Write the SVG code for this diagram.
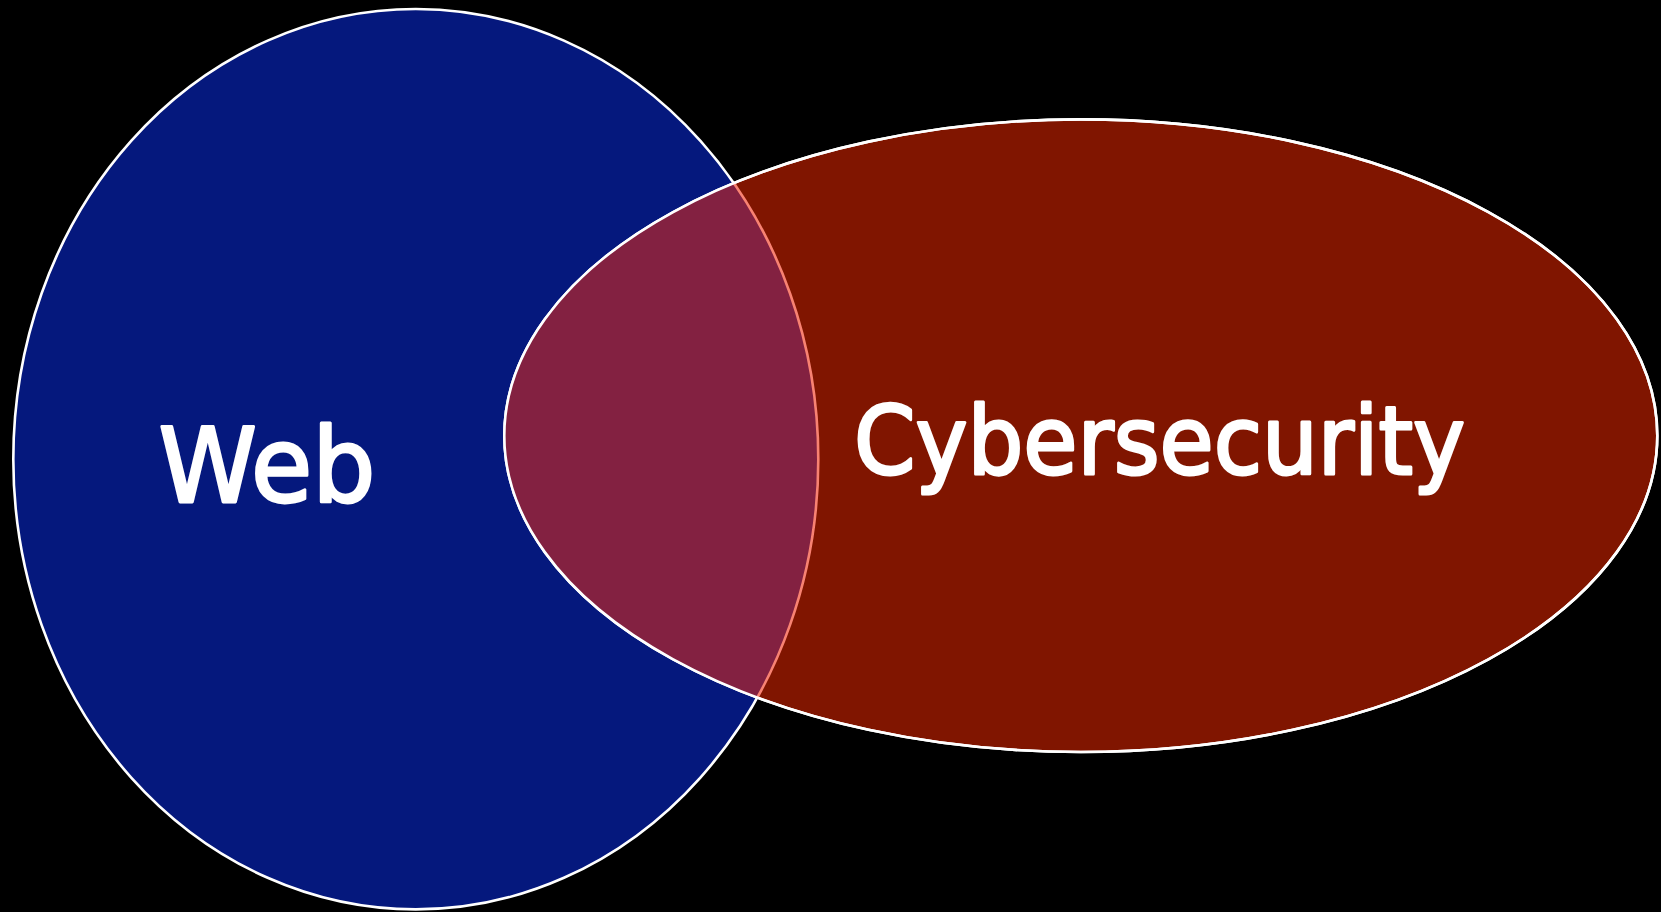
<svg xmlns="http://www.w3.org/2000/svg" width="1661" height="912" viewBox="0 0 1661 912">
<style>
.lbl{font-family:"DejaVu Sans","Liberation Sans",sans-serif;fill:#ffffff;stroke:#ffffff;stroke-width:3;stroke-linejoin:round;}
.edge{stroke:#ffffff;stroke-width:2.6;}
</style>
<defs>
<clipPath id="redClip"><ellipse cx="1080.8" cy="435.7" rx="576.5" ry="316.3"/></clipPath>
</defs>
<rect x="0" y="0" width="1661" height="912" fill="#000000"/>
<g id="web">
<ellipse class="edge" cx="415.8" cy="459.2" rx="402.5" ry="450.2" fill="#05187D"/>
</g>
<g id="cybersecurity">
<ellipse class="edge" cx="1080.8" cy="435.7" rx="576.5" ry="316.3" fill="#801500"/>
</g>
<g id="overlap" clip-path="url(#redClip)">
<ellipse cx="415.8" cy="459.2" rx="402.5" ry="450.2" fill="#832141" stroke="#F88272" stroke-width="2.6"/>
</g>
<g id="outline">
<ellipse class="edge" cx="1080.8" cy="435.7" rx="576.5" ry="316.3" fill="none"/>
</g>
<g id="labels">
<text class="lbl" x="158.5" y="502" font-size="104" textLength="217" lengthAdjust="spacingAndGlyphs">Web</text>
<text class="lbl" x="854" y="474" font-size="94" textLength="611" lengthAdjust="spacingAndGlyphs">Cybersecurity</text>
</g>
</svg>
